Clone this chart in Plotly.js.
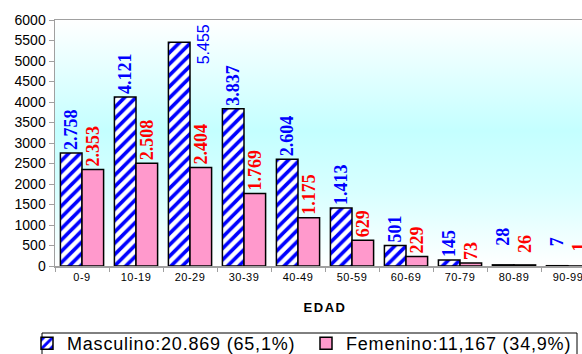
<!DOCTYPE html>
<html>
<head>
<meta charset="utf-8">
<script src="https://cdn.plot.ly/plotly-3.0.1.min.js"></script>
<style>
  html, body { margin: 0; padding: 0; background: #fff; width: 582px; height: 354px; overflow: hidden; }
  #wrap { position: relative; width: 582px; height: 354px; overflow: hidden; }
  #bg { position: absolute; left: 55px; top: 20px; width: 540px; height: 246px;
        background: linear-gradient(to bottom, #ffffff 0%, #c4ffff 45%, #d8ffff 70%, #ffffff 100%); z-index: 0; }
  #chart { position: absolute; left: 0; top: 0; z-index: 1; }
  .legendtext { letter-spacing: 0.8px; }
  .xtitle { letter-spacing: 1.5px; }
  .xtick text { letter-spacing: 0.5px; }
</style>
</head>
<body>
<div id="wrap">
  <div id="bg"></div>
  <div id="chart"></div>
</div>
<script>
const categories = ["0-9", "10-19", "20-29", "30-39", "40-49", "50-59", "60-69", "70-79", "80-89", "90-99"];
const masculino = [2758, 4121, 5455, 3837, 2604, 1413, 501, 145, 28, 7];
const femenino = [2353, 2508, 2404, 1769, 1175, 629, 229, 73, 26, 1];
const masculinoLabels = ["2.758", "4.121", "5.455", "3.837", "2.604", "1.413", "501", "145", "28", "7"];
const femeninoLabels = ["2.353", "2.508", "2.404", "1.769", "1.175", "629", "229", "73", "26", "1"];
const legendMasculino = "Masculino:20.869 (65,1%)";
const legendFemenino = "Femenino:11,167 (34,9%)";
const xTitle = "EDAD";

// The tallest bar's label sits beside the bar (no room above it)
const besideIndex = 2;
// Labels of the tiniest bars are lifted a bit higher above the bar
const liftedIndex = [8, 9];
const mascLift = [17, 17];
const femLift = [10, 12];

const mascText = masculinoLabels.map((t, i) => (i === besideIndex || liftedIndex.includes(i)) ? "" : t);
const femText = femeninoLabels.map((t, i) => liftedIndex.includes(i) ? "" : t);

const serifBold = (color) => ({ family: "Liberation Serif, Times New Roman, serif", size: 18, color: color, weight: "bold" });

const traces = [
  {
    type: "bar", name: legendMasculino, x: categories, y: masculino,
    text: mascText, textposition: "outside", textangle: -90,
    constraintext: "none", cliponaxis: false,
    textfont: serifBold("#0000ff"),
    marker: { color: "#ffffff", line: { color: "#000000", width: 1.5 },
              pattern: { shape: "/", fgcolor: "#0000ff", bgcolor: "#ffffff", size: 8, solidity: 0.45 } },
    hoverinfo: "skip"
  },
  {
    type: "bar", name: legendFemenino, x: categories, y: femenino,
    text: femText, textposition: "outside", textangle: -90,
    constraintext: "none", cliponaxis: false,
    textfont: serifBold("#ff0000"),
    marker: { color: "#ff99cc", line: { color: "#000000", width: 1.5 } },
    hoverinfo: "skip"
  }
];

const annotations = [{
  x: categories[besideIndex], y: masculino[besideIndex], xref: "x", yref: "y",
  text: masculinoLabels[besideIndex], showarrow: false, textangle: -90,
  xanchor: "center", yanchor: "middle", xshift: 13, yshift: -2,
  font: { family: "Liberation Sans, Arial, sans-serif", size: 16, color: "#0000ff" }
}];
liftedIndex.forEach((idx, k) => {
  annotations.push({
    x: categories[idx], y: masculino[idx], xref: "x", yref: "y",
    text: masculinoLabels[idx], showarrow: false, textangle: -90,
    xanchor: "center", yanchor: "bottom", xshift: -11, yshift: mascLift[k],
    font: serifBold("#0000ff")
  });
  annotations.push({
    x: categories[idx], y: femenino[idx], xref: "x", yref: "y",
    text: femeninoLabels[idx], showarrow: false, textangle: -90,
    xanchor: "center", yanchor: "bottom", xshift: 11, yshift: femLift[k],
    font: serifBold("#ff0000")
  });
});

// plot area: x 55..595 px, y 20..266 px
const px = (v) => (v - 55) / 540;
const py = (v) => (266 - v) / 246;

const layout = {
  width: 620, height: 354,
  margin: { l: 55, r: 25, t: 20, b: 88, autoexpand: false },
  paper_bgcolor: "rgba(0,0,0,0)", plot_bgcolor: "rgba(0,0,0,0)",
  barmode: "group", bargap: 0.2, bargroupgap: 0,
  showlegend: true,
  font: { family: "Liberation Sans, Arial, sans-serif", color: "#000" },
  xaxis: {
    type: "category", range: [-0.5, 9.5],
    showline: true, linecolor: "#a0a0a0", linewidth: 1.5, mirror: true,
    ticks: "outside", tickson: "boundaries", ticklen: 4, tickcolor: "#a0a0a0",
    tickfont: { size: 11, family: "Liberation Sans, Arial, sans-serif" },
    showgrid: false, zeroline: false,
    title: { text: xTitle, font: { size: 13, weight: "bold", family: "Liberation Sans, Arial, sans-serif" }, standoff: 21 }
  },
  yaxis: {
    range: [0, 6000], dtick: 500, tick0: 0,
    showline: true, linecolor: "#a0a0a0", linewidth: 1.5,
    ticks: "outside", ticklen: 5, tickcolor: "#a0a0a0",
    tickfont: { size: 14, family: "Liberation Sans, Arial, sans-serif" },
    showgrid: false, zeroline: false
  },
  legend: {
    orientation: "h", x: px(27), xanchor: "left", y: py(325), yanchor: "top",
    borderwidth: 0, bgcolor: "rgba(0,0,0,0)",
    font: { size: 18, family: "Liberation Sans, Arial, sans-serif" },
    itemwidth: 30, traceorder: "normal", entrywidth: 234
  },
  shapes: [{
    type: "rect", xref: "paper", yref: "paper",
    x0: px(42), x1: px(577), y0: py(333), y1: py(362),
    line: { color: "#000000", width: 1 }, fillcolor: "#ffffff", layer: "below"
  }],
  annotations: annotations
};

Plotly.newPlot("chart", traces, layout, { displayModeBar: false, staticPlot: true });
</script>
</body>
</html>
